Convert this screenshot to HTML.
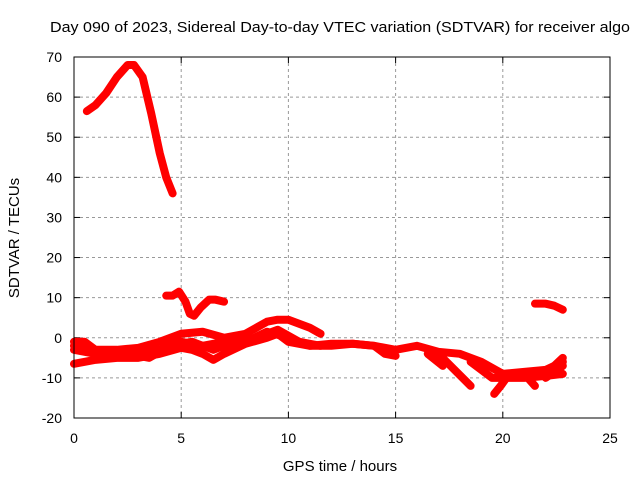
<!DOCTYPE html>
<html><head><meta charset="utf-8"><style>
body{margin:0;background:#fff}
svg{display:block;font-family:"Liberation Sans",sans-serif}
</style></head><body>
<svg id="c" width="640" height="480">
<rect width="640" height="480" fill="#fff"/>
<text x="50" y="32" font-size="15" textLength="580" lengthAdjust="spacingAndGlyphs">Day 090 of 2023, Sidereal Day-to-day VTEC variation (SDTVAR) for receiver algo</text>
<text x="340" y="471" font-size="15" text-anchor="middle">GPS time / hours</text>
<text transform="translate(19,238) rotate(-90)" font-size="15" text-anchor="middle">SDTVAR / TECUs</text>
<g id="grid"></g><g id="ticks"></g><g id="marks"></g>
<rect x="74" y="57" width="536" height="361" fill="none" stroke="#000" stroke-width="1"/>
</svg>
<script>
const xTicks=[0,5,10,15,20,25];
const yTicks=[-20,-10,0,10,20,30,40,50,60,70];
const arcT=[0.6,1,1.5,2,2.5,2.8,3.2,3.6,4.0,4.3,4.6];
const arcV=[56.5,58,61,65,68,68,65,56,46,40,36];
const bumpT=[4.3,4.6,4.9,5.2,5.4,5.6,5.9,6.3,6.6,7];
const bumpV=[10.5,10.5,11.5,9,6,5.5,7.5,9.5,9.5,9];
const lateT=[21.5,22,22.4,22.8];
const lateV=[8.5,8.5,8,7];
const upT=[0,0.5,1,2,3,4,5,6,7,8,9,9.5,10,10.5,11,11.5];
const upV=[-1,-1,-3,-3,-2.5,-1,1,1.5,0,1,4,4.5,4.5,3.5,2.5,1];
const lowT=[0,1,2,3,4,5,5.5,6,6.5,7,8,9,9.5,10,11,12,13,14,15,16,17,18,19,20,21,22,22.8];
const lowV=[-6.5,-5.5,-5,-5,-4,-2.5,-3,-4,-5.5,-4,-1.5,0,1,-1,-2,-2,-1.5,-2,-3,-2,-3.5,-4,-6,-9,-8.5,-8,-6];
const midT=[0,1,2,3,4,5,6,7,8,9,10,11,12,13,14,14.5,15];
const midV=[-3,-4,-3.5,-4,-3,-1,-2,-1,-1,1.5,0,-2,-1.5,-1.5,-2,-4,-4.5];
const mid2T=[0,0.7,1.5,2.5,3.5,4.5,5.5,6.5,7.5,8.5,9.5,10.5,11.5];
const mid2V=[-2,-3,-5,-4,-5,-2,-1,-3,-1,0,2,-1,-2];
const br1T=[16.5,17.2];const br1V=[-4,-7];
const br2T=[17,18.5];const br2V=[-4,-12];
const br3T=[18.5,19.5,20];const br3V=[-6,-10,-10];
const br4T=[20.3,19.9,19.6];const br4V=[-9,-12,-14];
const br5T=[21,21.5];const br5V=[-9,-12];
const br6T=[22,22.8];const br6V=[-10,-7];
const br7T=[22,22.8];const br7V=[-9,-5];
const br8T=[20,21,22,22.8];const br8V=[-10,-10,-9.5,-9];
const series=[[arcT,arcV],[bumpT,bumpV],[lateT,lateV],[upT,upV],[lowT,lowV],[midT,midV],[mid2T,mid2V],[br1T,br1V],[br2T,br2V],[br3T,br3V],[br4T,br4V],[br5T,br5V],[br6T,br6V],[br7T,br7V],[br8T,br8V]];
const NS="http://www.w3.org/2000/svg";
const X=t=>74+t*536/25, Y=v=>57+(70-v)*361/90;
const grid=document.getElementById('grid'),ticks=document.getElementById('ticks'),marks=document.getElementById('marks');
function mk(tag,a,p){const e=document.createElementNS(NS,tag);for(const k in a)e.setAttribute(k,a[k]);p.appendChild(e);return e;}
xTicks.forEach(t=>{
 if(t>0&&t<25){const l=mk('line',{x1:X(t),x2:X(t),y1:57,y2:418,stroke:'#999','stroke-dasharray':'3,3'},grid);
 
 }
 mk('line',{x1:X(t),x2:X(t),y1:418,y2:412,stroke:'#000'},ticks);
 mk('line',{x1:X(t),x2:X(t),y1:57,y2:63,stroke:'#000'},ticks);
 const tx=mk('text',{x:X(t),y:443,'font-size':14,'text-anchor':'middle'},ticks);tx.textContent=t;
 
 
});
yTicks.forEach(v=>{
 if(v>-20&&v<70){const l=mk('line',{x1:74,x2:610,y1:Y(v),y2:Y(v),stroke:'#999','stroke-dasharray':'3,3'},grid);
 
 }
 mk('line',{x1:74,x2:80,y1:Y(v),y2:Y(v),stroke:'#000'},ticks);
 mk('line',{x1:604,x2:610,y1:Y(v),y2:Y(v),stroke:'#000'},ticks);
 const tx=mk('text',{x:62,y:Y(v)+5,'font-size':14,'text-anchor':'end'},ticks);tx.textContent=v;
 
 
});
series.forEach(([ts,vs])=>{
 const pts=ts.map((t,i)=>X(t)+','+Y(vs[i])).join(' ');
 const p=mk('polyline',{points:pts,fill:'none',stroke:'#f00','stroke-width':8,'stroke-linejoin':'round','stroke-linecap':'round'},marks);
 
 
});
</script>
</body></html>
